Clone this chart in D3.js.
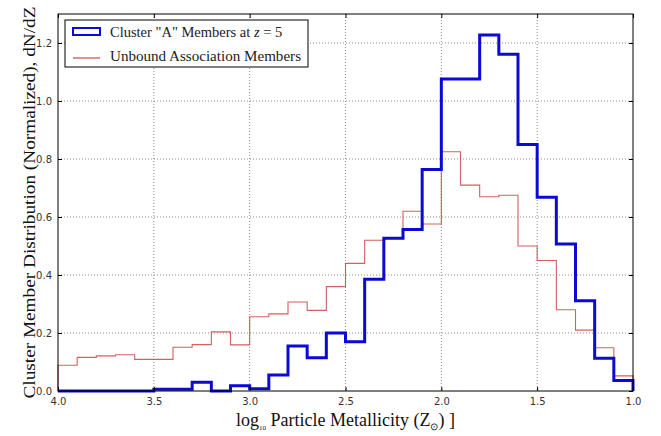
<!DOCTYPE html>
<html><head><meta charset="utf-8">
<script src="https://cdn.jsdelivr.net/npm/d3@7/dist/d3.min.js"></script>
<style>body{margin:0;background:#fff}svg{display:block}</style>
</head><body>
<svg id="c" width="661" height="436"></svg>
<script>
// Bin edges (log metallicity, shown without sign as on the reference)
const binEdges = [4.0,3.9,3.8,3.7,3.6,3.5,3.4,3.3,3.2,3.1,3.0,2.9,2.8,2.7,2.6,2.5,2.4,2.3,2.2,2.1,2.0,1.9,1.8,1.7,1.6,1.5,1.4,1.3,1.2,1.1,1.0];
const clusterA = [0,0,0,0,0,0.006,0.006,0.03,0,0.018,0.008,0.055,0.155,0.115,0.2,0.17,0.385,0.527,0.557,0.764,1.076,1.076,1.228,1.161,0.85,0.668,0.507,0.311,0.113,0.036];
const unbound  = [0.089,0.116,0.121,0.125,0.109,0.109,0.151,0.16,0.204,0.159,0.256,0.266,0.307,0.278,0.36,0.44,0.52,0.527,0.62,0.576,0.825,0.71,0.67,0.675,0.5,0.45,0.28,0.21,0.149,0.052];
const xTicks = [4.0,3.5,3.0,2.5,2.0,1.5,1.0];
const yTicks = [0.0,0.2,0.4,0.6,0.8,1.0,1.2];
const seriesNames = ['Cluster "A" Members at z = 5', 'Unbound Association Members'];

const svg = d3.select("#c");
const L=58, R=633, T=14, B=391;
const x = d3.scaleLinear().domain([4.0,1.0]).range([L,R]);
const y = d3.scaleLinear().domain([0,1.3]).range([B,T]);
const fmt = d3.format(".1f");

// grid
const grid = svg.append("g");
grid.selectAll("line.gx").data(xTicks.slice(1,-1)).join("line")
  .attr("x1",d=>x(d)).attr("x2",d=>x(d)).attr("y1",T).attr("y2",B)
  .attr("stroke","#000").attr("stroke-opacity",0.45).attr("stroke-width",1).attr("stroke-dasharray","1,2");
grid.selectAll("line.gy").data(yTicks.slice(1)).join("line")
  .attr("x1",L).attr("x2",R).attr("y1",d=>y(d)).attr("y2",d=>y(d))
  .attr("stroke","#000").attr("stroke-opacity",0.45).attr("stroke-width",1).attr("stroke-dasharray","1,2");

// step histogram path
function stepPath(vals){
  const pts=[[binEdges[0],0]];
  vals.forEach((v,i)=>{pts.push([binEdges[i],v]);pts.push([binEdges[i+1],v]);});
  pts.push([binEdges[binEdges.length-1],0]);
  return d3.line().x(d=>x(d[0])).y(d=>y(d[1]))(pts);
}
svg.append("path").attr("d",stepPath(unbound)).attr("fill","none")
  .attr("stroke","#c83838").attr("stroke-width",1.1).attr("stroke-opacity",0.8);
svg.append("path").attr("d",stepPath(clusterA)).attr("fill","none")
  .attr("stroke","#0a0ad2").attr("stroke-width",3).attr("stroke-linejoin","miter");

// axes
const font="'DejaVu Sans', sans-serif";
svg.append("g").attr("transform",`translate(0,${B})`)
  .call(d3.axisBottom(x).tickValues(xTicks).tickFormat(fmt).tickSize(-4).tickPadding(7));
svg.append("g").attr("transform",`translate(${L},0)`)
  .call(d3.axisLeft(y).tickValues(yTicks).tickFormat(fmt).tickSize(-4).tickPadding(6));
svg.append("g").attr("transform",`translate(0,${T})`)
  .call(d3.axisTop(x).tickValues(xTicks).tickFormat("").tickSize(-4));
svg.append("g").attr("transform",`translate(${R},0)`)
  .call(d3.axisRight(y).tickValues(yTicks).tickFormat("").tickSize(-4));
svg.selectAll(".domain").remove();
svg.selectAll(".tick line").attr("stroke","#000");
svg.selectAll(".tick text").attr("font-family",font).attr("font-size",10).attr("fill","#333");
svg.append("rect").attr("x",L).attr("y",T).attr("width",R-L).attr("height",B-T)
  .attr("fill","none").attr("stroke","#000").attr("stroke-width",1);

// legend
const lg = svg.append("g");
lg.append("rect").attr("x",65).attr("y",20).attr("width",243).attr("height",47)
  .attr("fill","#fff").attr("stroke","#000").attr("stroke-width",1);
lg.append("rect").attr("x",73).attr("y",28).attr("width",27).attr("height",7)
  .attr("fill","#fff").attr("stroke","#0a0ad2").attr("stroke-width",2);
lg.append("line").attr("x1",73).attr("x2",100).attr("y1",58).attr("y2",58)
  .attr("stroke","#c83838").attr("stroke-width",1.1);
const serif="'Liberation Serif','Times New Roman',serif";
const t1 = lg.append("text").attr("x",110).attr("y",37).attr("font-family",serif).attr("font-size",14.5).attr("fill","#222");
t1.append("tspan").text('Cluster "A" Members at ');
t1.append("tspan").attr("font-style","italic").text("z");
t1.append("tspan").text(" = 5");
lg.append("text").attr("x",110).attr("y",61).attr("font-family",serif).attr("font-size",14.5).attr("fill","#222")
  .attr("textLength",191).attr("lengthAdjust","spacingAndGlyphs")
  .text(seriesNames[1]);

// axis labels
const xl = svg.append("text").attr("x",(L+R)/2).attr("y",426).attr("text-anchor","middle")
  .attr("font-family",serif).attr("font-size",18).attr("fill","#111");
xl.append("tspan").text("log");
xl.append("tspan").attr("font-size",7).attr("dy",4).text("10");
xl.append("tspan").attr("dy",-4).text(" Particle Metallicity (Z");
xl.append("tspan").attr("font-size",10).attr("dy",4).text("⊙");
xl.append("tspan").attr("dy",-4).text(") ]");

svg.append("text").attr("transform",`translate(35,${(T+B)/2}) rotate(-90)`).attr("text-anchor","middle")
  .attr("font-family",serif).attr("font-size",17).attr("fill","#111")
  .attr("textLength",392).attr("lengthAdjust","spacingAndGlyphs")
  .text("Cluster Member Distribution (Normalized), dN/dZ");
</script>
</body></html>
